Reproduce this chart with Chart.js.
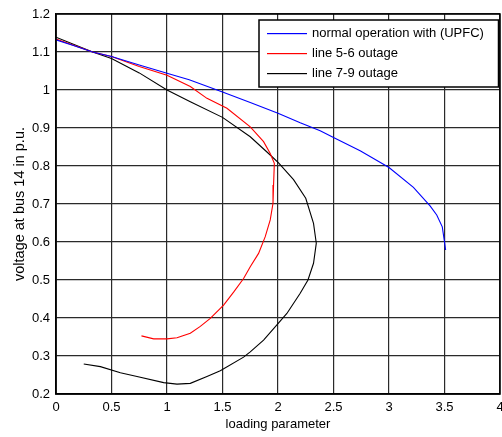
<!DOCTYPE html>
<html>
<head>
<meta charset="utf-8">
<script src="https://cdn.jsdelivr.net/npm/chart.js@4.4.0/dist/chart.umd.min.js"></script>
<style>
  html, body { margin: 0; padding: 0; background: #fff; }
  #wrap { width: 502px; height: 437px; position: relative; }
</style>
</head>
<body>
<div id="wrap"><canvas id="pvChart"></canvas></div>
<script>
// PV curves at bus 14 for three operating cases
var seriesNames = ["normal operation with (UPFC)", "line 5-6 outage", "line 7-9 outage"];
var seriesColors = ["#0000ff", "#ff0000", "#000000"];

var normalX = [0, 0.15, 0.33, 0.5, 0.75, 1.0, 1.2, 1.5, 1.75, 2.0, 2.2, 2.38, 2.5, 2.74, 3.0, 3.22, 3.37, 3.43, 3.48, 3.50, 3.51];
var normalY = [1.132, 1.118, 1.100, 1.088, 1.066, 1.044, 1.027, 0.995, 0.967, 0.939, 0.914, 0.893, 0.875, 0.840, 0.796, 0.744, 0.695, 0.671, 0.640, 0.600, 0.579];

var out56X = [0, 0.33, 0.5, 0.75, 1.0, 1.21, 1.36, 1.54, 1.75, 1.87, 1.93, 1.967, 1.96, 1.955, 1.93, 1.885, 1.825, 1.75, 1.69, 1.60, 1.51, 1.39, 1.30, 1.21, 1.09, 1.0, 0.88, 0.77];
var out56Y = [1.134, 1.100, 1.088, 1.062, 1.039, 1.009, 0.978, 0.952, 0.903, 0.864, 0.833, 0.807, 0.750, 0.702, 0.658, 0.614, 0.570, 0.535, 0.504, 0.468, 0.434, 0.399, 0.378, 0.360, 0.348, 0.345, 0.345, 0.353];

var out79X = [0, 0.33, 0.5, 0.75, 1.0, 1.21, 1.5, 1.75, 1.93, 2.005, 2.14, 2.25, 2.32, 2.345, 2.32, 2.27, 2.20, 2.08, 1.99, 1.87, 1.75, 1.69, 1.48, 1.36, 1.21, 1.09, 0.97, 0.73, 0.58, 0.40, 0.25];
var out79Y = [1.139, 1.100, 1.083, 1.045, 1.000, 0.969, 0.928, 0.877, 0.829, 0.808, 0.764, 0.715, 0.649, 0.597, 0.544, 0.500, 0.465, 0.412, 0.382, 0.342, 0.311, 0.297, 0.261, 0.246, 0.228, 0.226, 0.230, 0.246, 0.256, 0.272, 0.279];

function toPoints(xs, ys) {
    var pts = [];
    for (var i = 0; i < xs.length; i++) {
        pts.push({ x: xs[i], y: ys[i] });
    }
    return pts;
}

var FONT = "'Liberation Sans', Arial, sans-serif";

// axes box plus a boxed legend in the upper right corner
var boxAndLegend = {
    id: 'boxAndLegend',
    afterDraw: function (chart) {
        var c = chart.ctx;
        var a = chart.chartArea;
        c.save();
        c.strokeStyle = '#000';
        c.lineWidth = 1.5;
        c.strokeRect(a.left, a.top, a.right - a.left, a.bottom - a.top);

        c.font = '13px ' + FONT;
        var maxW = 0;
        for (var i = 0; i < seriesNames.length; i++) {
            maxW = Math.max(maxW, c.measureText(seriesNames[i]).width);
        }
        var right = a.right - 1.5;
        var left = Math.round(right - (maxW + 68));
        var top = a.top + 6;
        var bottom = top + 67;
        c.fillStyle = '#fff';
        c.fillRect(left, top, right - left, bottom - top);
        c.strokeStyle = '#000';
        c.lineWidth = 1.5;
        c.strokeRect(left, top, right - left, bottom - top);
        c.textBaseline = 'middle';
        c.textAlign = 'left';
        for (var j = 0; j < seriesNames.length; j++) {
            var y = Math.round(top + 13 + j * 20);
            c.fillStyle = seriesColors[j];
            c.fillRect(left + 8, y, 40, 1.2);
            c.fillStyle = '#000';
            c.fillText(seriesNames[j], left + 53, y + 0.5);
        }
        c.restore();
    }
};

var chart = new Chart(document.getElementById('pvChart'), {
    type: 'scatter',
    data: {
        datasets: [
            { label: seriesNames[0], data: toPoints(normalX, normalY), borderColor: seriesColors[0], backgroundColor: seriesColors[0] },
            { label: seriesNames[1], data: toPoints(out56X, out56Y), borderColor: seriesColors[1], backgroundColor: seriesColors[1] },
            { label: seriesNames[2], data: toPoints(out79X, out79Y), borderColor: seriesColors[2], backgroundColor: seriesColors[2] }
        ]
    },
    options: {
        responsive: true,
        maintainAspectRatio: false,
        animation: false,
        layout: { padding: { left: 0, right: 2, top: 14, bottom: 0 } },
        datasets: {
            scatter: { showLine: true, pointRadius: 0, borderWidth: 1.1, tension: 0, fill: false }
        },
        plugins: {
            legend: { display: false },
            tooltip: { enabled: false }
        },
        scales: {
            x: {
                type: 'linear',
                min: 0,
                max: 4,
                ticks: {
                    stepSize: 0.5,
                    color: '#000',
                    padding: 6,
                    maxRotation: 0,
                    font: { family: FONT, size: 13 },
                    callback: function (v) { return String(Number(v.toFixed(1))); }
                },
                grid: { color: '#2a2a2a', lineWidth: 1.2, drawTicks: false },
                border: { color: '#000', width: 1.5 },
                title: {
                    display: true,
                    text: 'loading parameter',
                    color: '#000',
                    padding: { top: 0, bottom: 5 },
                    font: { family: FONT, size: 13 }
                },
                afterFit: function (scale) {
                    scale.height = 43;
                    scale.paddingLeft = 0;
                    scale.paddingRight = 0;
                }
            },
            y: {
                type: 'linear',
                min: 0.2,
                max: 1.2,
                ticks: {
                    stepSize: 0.1,
                    color: '#000',
                    padding: 6,
                    font: { family: FONT, size: 13 },
                    callback: function (v) { return String(Number(v.toFixed(1))); }
                },
                grid: { color: '#2a2a2a', lineWidth: 1.2, drawTicks: false },
                border: { color: '#000', width: 1.5 },
                title: {
                    display: true,
                    text: 'voltage at bus 14 in p.u.',
                    color: '#000',
                    padding: { top: 11, bottom: 0 },
                    font: { family: FONT, size: 14.5 }
                },
                afterFit: function (scale) {
                    scale.width = 56;
                    scale.paddingTop = 0;
                    scale.paddingBottom = 0;
                }
            }
        }
    },
    plugins: [boxAndLegend]
});
</script>
</body>
</html>
